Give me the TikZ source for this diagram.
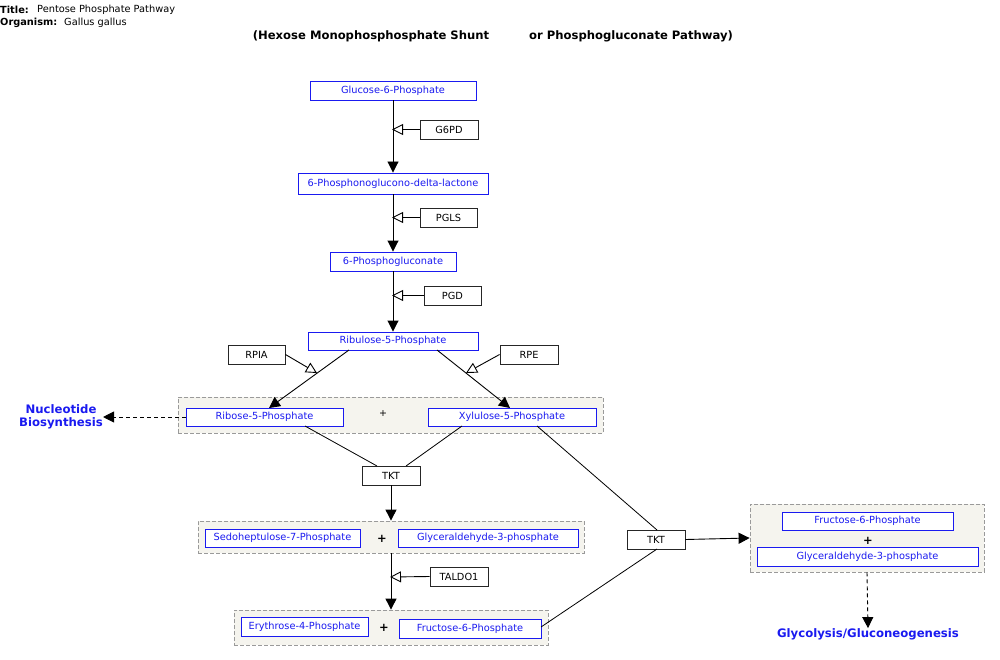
\documentclass[tikz,border=0pt]{standalone}
\usepackage{fontspec}
\setmainfont{DejaVu Sans}
\usetikzlibrary{arrows.meta}
\definecolor{mblue}{HTML}{1A1AF0}
\definecolor{grpfill}{HTML}{F5F4EE}
\definecolor{grpline}{HTML}{9A9A9A}
\tikzset{
  metab/.style={draw=mblue, text=mblue, fill=white, minimum height=19pt, inner sep=0pt, line width=0.9pt, font=\fontsize{9.8}{11}\selectfont},
  enz/.style={draw=black!85, text=black, fill=white, minimum height=19pt, minimum width=58pt, inner sep=0pt, line width=0.9pt, font=\fontsize{9.8}{11}\selectfont},
  grp/.style={draw=grpline, dash pattern=on 4pt off 2pt, fill=grpfill, inner sep=0pt, line width=0.8pt},
  rxn/.style={line width=0.9pt, -{Triangle[length=11pt,width=11pt]}},
  cat/.style={line width=0.9pt, -{Triangle[open,length=11pt,width=11pt]}},
  plain/.style={line width=0.8pt},
  dasharrow/.style={line width=0.9pt, dash pattern=on 4pt off 3pt, -{Triangle[length=11pt,width=11pt]}},
  plusb/.style={font=\fontsize{11.5}{12}\selectfont\bfseries, inner sep=0pt},
  outl/.style={text=mblue, font=\fontsize{11.7}{12.5}\selectfont\bfseries, align=center, inner sep=0pt},
  lbl/.style={font=\fontsize{9.8}{11}\selectfont, anchor=west, inner sep=0pt},
  hdr/.style={font=\fontsize{11.6}{13}\selectfont\bfseries, inner sep=0pt},
}
\begin{document}
\begin{tikzpicture}[x=1pt,y=-1pt]
\useasboundingbox (0,0) rectangle (1000,660);
% header
\node[lbl] (t1) at (0,10) {\bfseries Title:};
\node[lbl] (t2) at (37,10) {Pentose Phosphate Pathway};
\node[lbl] (o1) at (0,23) {\bfseries Organism:};
\node[lbl] (o2) at (64,23) {Gallus gallus};
\node[hdr] (h1) at (371,36) {(Hexose Monophosphosphate Shunt};
\node[hdr] (h2) at (631,36) {or Phosphogluconate Pathway)};
% groups
\node[grp, minimum width=425pt, minimum height=36pt] (grp1) at (390.5,415) {};
\node[grp, minimum width=386pt, minimum height=32pt] (grp2) at (391,537) {};
\node[grp, minimum width=314pt, minimum height=35pt] (grp3) at (391,627.5) {};
\node[grp, minimum width=234pt, minimum height=68pt] (grp4) at (867,538) {};
% metabolites
\node[metab, minimum width=166pt] (g6p) at (393,90.5) {Glucose-6-Phosphate};
\node[metab, minimum width=190pt, minimum height=21pt] (lac) at (393,183.5) {6-Phosphonoglucono-delta-lactone};
\node[metab, minimum width=126pt] (pg) at (393,261.5) {6-Phosphogluconate};
\node[metab, minimum width=170pt, minimum height=18pt] (ru5p) at (393,341) {Ribulose-5-Phosphate};
\node[metab, minimum width=157pt, minimum height=18pt] (r5p) at (264.5,417) {Ribose-5-Phosphate};
\node[font=\fontsize{9.5}{10}\selectfont, inner sep=0pt] (p1) at (383,414) {+};
\node[metab, minimum width=168pt, minimum height=18pt] (x5p) at (512,417) {Xylulose-5-Phosphate};
\node[metab, minimum width=155pt, minimum height=18pt] (s7p) at (282.5,538) {Sedoheptulose-7-Phosphate};
\node[plusb] (p2) at (382,538.5) {+};
\node[metab, minimum width=180pt, minimum height=18pt] (ga3p) at (488,538) {Glyceraldehyde-3-phosphate};
\node[metab, minimum width=127pt] (e4p) at (304.5,626.5) {Erythrose-4-Phosphate};
\node[plusb] (p3) at (384,628) {+};
\node[metab, minimum width=142pt] (f6p) at (470,628.5) {Fructose-6-Phosphate};
\node[metab, minimum width=171pt, minimum height=18pt] (f6pb) at (867.5,521) {Fructose-6-Phosphate};
\node[plusb] (p4) at (868,541) {+};
\node[metab, minimum width=221pt] (ga3pb) at (867.5,556.5) {Glyceraldehyde-3-phosphate};
\node[outl] (glyc) at (868,634) {Glycolysis/Gluconeogenesis};
\node[outl] (nuc) at (61,417) {Nucleotide\\Biosynthesis};
% enzymes
\node[enz] (g6pd) at (449,129.5) {G6PD};
\node[enz, minimum width=57pt] (pgls) at (448.5,217.5) {PGLS};
\node[enz, minimum width=57pt] (pgd) at (452.5,295.5) {PGD};
\node[enz, minimum width=57pt] (rpia) at (256.5,354.5) {RPIA};
\node[enz] (rpe) at (529,354.5) {RPE};
\node[enz] (tkt1) at (391,475.5) {TKT};
\node[enz] (taldo) at (459,576.5) {TALDO1};
\node[enz] (tkt2) at (656,539.5) {TKT};
% coordinates
\coordinate (m1) at (392,129.5);
\coordinate (m2) at (392,217.5);
\coordinate (m3) at (392,295.5);
\coordinate (rs) at (349,350);
\coordinate (re) at (269,408);
\coordinate (xs) at (437,350);
\coordinate (xe) at (510,408);
\coordinate (m4) at (317,373);
\coordinate (m5) at (466,373);
\coordinate (m6) at (390,577);
\coordinate (r5pb) at (305,426);
\coordinate (x5pb) at (462,426);
\coordinate (x5pr) at (537,426);
\coordinate (tk1a) at (377,466);
\coordinate (tk1b) at (406,466);
\coordinate (tk2a) at (657,530);
\coordinate (tk2b) at (657,549);
\coordinate (f6pr) at (541,627);
% reactions
\draw[rxn] (g6p.south) -- (lac.north);
\draw[rxn] (lac.south) -- (pg.north);
\draw[rxn] (pg.south) -- (ru5p.north);
\draw[rxn] (rs) -- (re);
\draw[rxn] (xs) -- (xe);
\draw[cat] (g6pd.west) -- (m1);
\draw[cat] (pgls.west) -- (m2);
\draw[cat] (pgd.west) -- (m3);
\draw[cat] (rpia.east) -- (m4);
\draw[cat] (rpe.west) -- (m5);
\draw[plain] (r5pb) -- (tk1a);
\draw[plain] (x5pb) -- (tk1b);
\draw[rxn] (tkt1.south) -- (grp2.north);
\draw[rxn] (grp2.south) -- (grp3.north);
\draw[cat] (taldo.west) -- (m6);
\draw[plain] (x5pr) -- (tk2a);
\draw[plain] (f6pr) -- (tk2b);
\draw[rxn] (tkt2.east) -- (grp4.west);
\draw[dasharrow] (grp4.south) -- (glyc.north);
\draw[dasharrow] (r5p.west) -- (nuc.east);
\end{tikzpicture}
\end{document}
